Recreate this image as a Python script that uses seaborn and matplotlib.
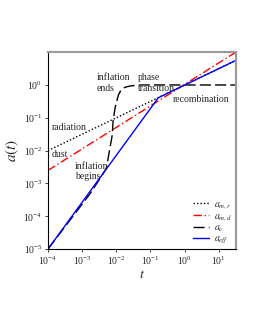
import pandas as pd
import seaborn as sns
import numpy as np
import matplotlib.pyplot as plt

sns.set_style('ticks')
plt.rcParams['font.family'] = ['Liberation Serif', 'DejaVu Serif']
plt.rcParams['mathtext.fontset'] = 'stix'

# radiation era a ~ t^(1/2)
t_rad = [1e-4, 31.6]
a_rad = [1e-2, 5.6]

# dust era a ~ t^(2/3)
t_dust = [1e-4, 31.6]
a_dust = [2.5e-3, 10.0]

# a_nu
t_nu = [1e-4, 1.74e-3, 4.0e-3, 5.1e-3, 6.2e-3, 7.6e-3, 8.1e-3, 9.3e-3,
        1.15e-2, 1.35e-2, 1.62e-2, 2.0e-2, 2.57e-2, 3.5e-2, 5.1e-2, 31.6]
a_nu = [1e-5, 5.0e-4, 1.9e-3, 2.9e-3, 8.9e-3, 2.95e-2, 8.5e-2, 0.21,
        0.49, 0.68, 0.81, 0.88, 0.93, 0.97, 1.0, 1.0]

# effective scale factor
t_eff = [1e-4, 0.17, 31.6]
a_eff = [1e-5, 0.41, 5.6]

fig = plt.figure(figsize=(2.55, 3.3), dpi=100)
ax = fig.add_axes([0.188, 0.245, 0.737, 0.597])

sns.lineplot(x=t_rad, y=a_rad, ax=ax, color='black', lw=1, ls=(0, (1, 1.5)),
             label=r'$a_{m,r}$', estimator=None, sort=False)
sns.lineplot(x=t_dust, y=a_dust, ax=ax, color='red', lw=1, ls=(0, (6, 2, 1, 2)),
             label=r'$a_{m,d}$', estimator=None, sort=False)
sns.lineplot(x=t_nu, y=a_nu, ax=ax, color='black', lw=1, ls=(0, (8, 3)),
             label=r'$a_{\nu}$', estimator=None, sort=False)
sns.lineplot(x=t_eff, y=a_eff, ax=ax, color='blue', lw=1,
             label=r'$a_{eff}$', estimator=None, sort=False)

ax.set_xscale('log')
ax.set_yscale('log')
ax.set_xlim(1e-4, 31.6)
ax.set_ylim(1e-5, 10)
ax.set_xticks([1e-4, 1e-3, 1e-2, 1e-1, 1e0, 1e1])
ax.set_yticks([1e-5, 1e-4, 1e-3, 1e-2, 1e-1, 1e0])
ax.minorticks_off()
ax.tick_params(labelsize=7, length=2, width=0.6, pad=2)

for s in ['top', 'right']:
    ax.spines[s].set_color('#9a9a9a')
    ax.spines[s].set_linewidth(1.5)
for s in ['left', 'bottom']:
    ax.spines[s].set_color('black')
    ax.spines[s].set_linewidth(0.8)

ax.set_xlabel(r'$t$', fontsize=10, labelpad=1)
ax.set_ylabel(r'$a(t)$', fontsize=11, labelpad=2)

fs = 7
ax.text(2.75e-3, 1.15, 'inflation\nends', fontsize=fs, va='center', linespacing=1.15)
ax.text(4.2e-2, 1.15, 'phase\ntransition', fontsize=fs, va='center', linespacing=1.15)
ax.text(0.45, 0.35, 'recombination', fontsize=fs, va='center')
ax.text(1.3e-4, 0.049, 'radiation', fontsize=fs, va='center')
ax.text(1.3e-4, 7.8e-3, 'dust', fontsize=fs, va='center')
ax.text(6.3e-4, 2.3e-3, 'inflation\nbegins', fontsize=fs, va='center', linespacing=1.15)

ax.legend(loc='lower right', frameon=False, fontsize=7, handlelength=1.6,
          labelspacing=0.05, borderaxespad=0.15, handletextpad=0.6,
          borderpad=0.2)

fig.savefig('out.png', dpi=100)
